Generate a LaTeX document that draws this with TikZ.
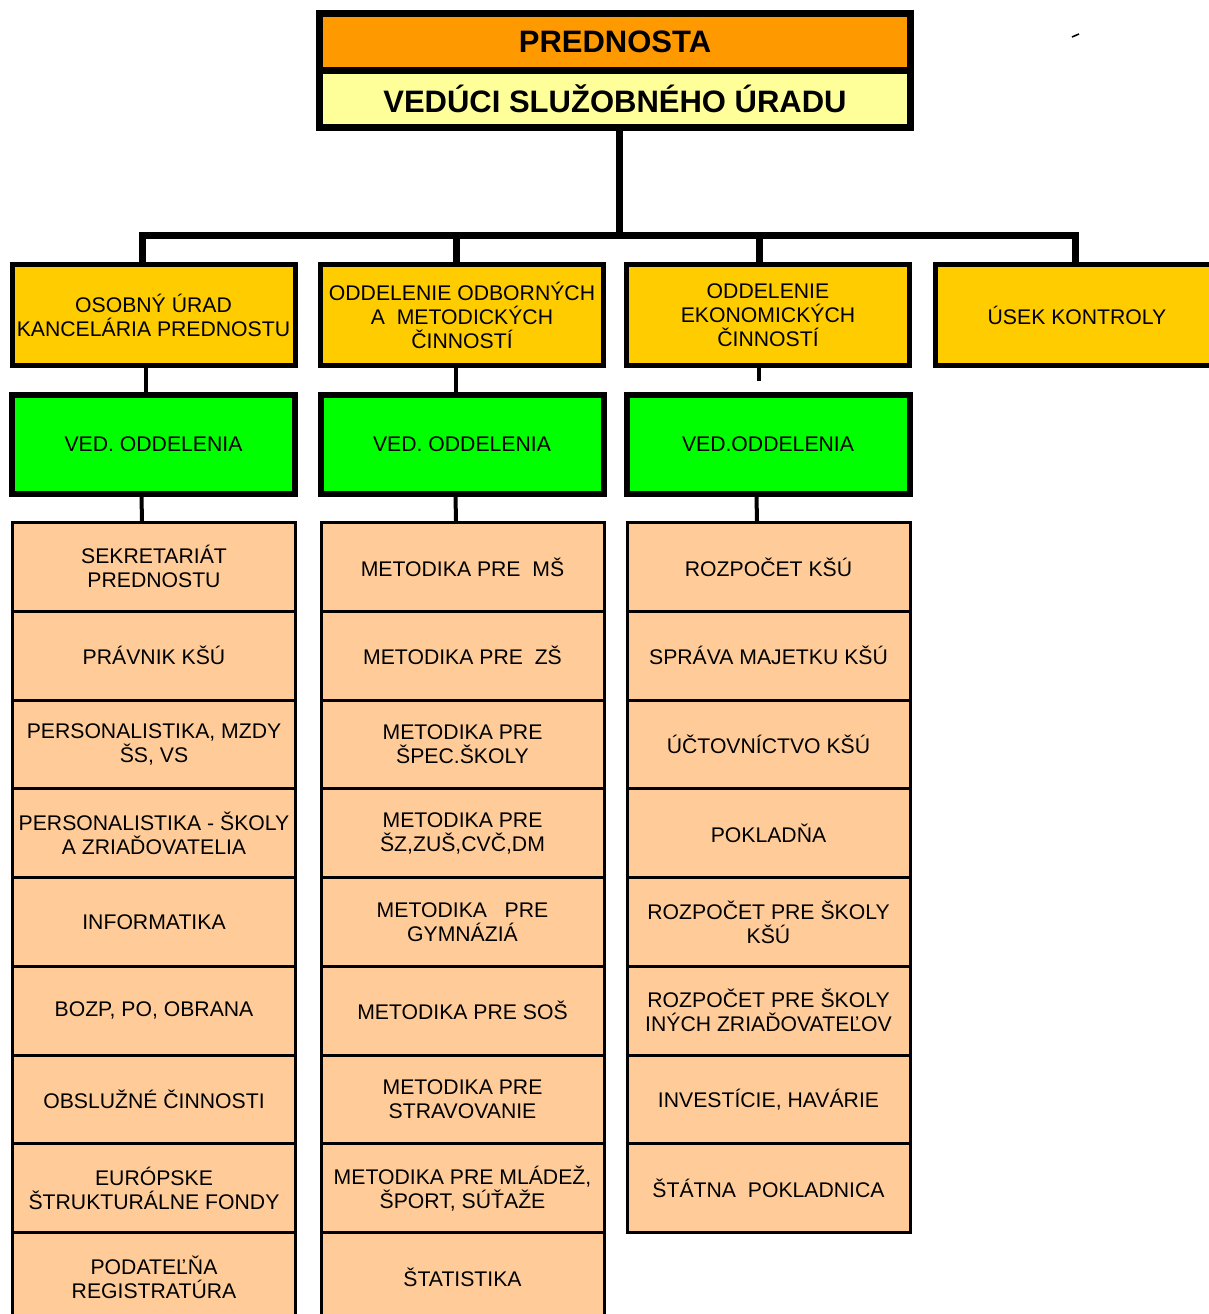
\documentclass[tikz,border=0pt]{standalone}
\usepackage{fontspec}
\setmainfont{Liberation Sans}
\definecolor{topor}{HTML}{FF9900}
\definecolor{topyel}{HTML}{FFFF99}
\definecolor{lvlone}{HTML}{FFCC00}
\definecolor{vedgreen}{HTML}{00FF00}
\definecolor{itemfill}{HTML}{FFCC99}
\tikzset{
  headbox/.style={draw, line width=7pt, fill=topor, minimum width=591pt, minimum height=56.5pt, inner sep=0pt, font=\bfseries\fontsize{31}{36}\selectfont},
  deptbox/.style={draw, line width=5pt, fill=lvlone, minimum width=283pt, minimum height=101pt, inner sep=0pt, align=center, font=\fontsize{21.2}{24}\selectfont},
  vedbox/.style={draw, line width=6pt, fill=vedgreen, minimum width=283pt, minimum height=99pt, inner sep=0pt, align=center, font=\fontsize{21.2}{24}\selectfont},
  itembox/.style={draw, line width=3pt, fill=itemfill, minimum width=283pt, minimum height=88.75pt, inner sep=0pt, align=center, anchor=north, font=\fontsize{21.2}{24}\selectfont},
  busline/.style={line width=7pt},
  thinconn/.style={line width=4pt}
}
\begin{document}
\begin{tikzpicture}[x=1pt,y=-1pt]
\useasboundingbox (0,0) rectangle (1209,1314);
% top box
\node[headbox] (pred) at (615,42.25) {PREDNOSTA};
\node[headbox, fill=topyel] (ved) at (615,98.75) {VEDÚCI SLUŽOBNÉHO ÚRADU};
% departments
\node[deptbox] (dA) at (153.5,315) {OSOBNÝ ÚRAD\\KANCELÁRIA PREDNOSTU};
\node[deptbox] (dB) at (462,315) {ODDELENIE ODBORNÝCH\\A~~METODICKÝCH\\ČINNOSTÍ};
\node[deptbox] (dC) at (768,315) {ODDELENIE\\EKONOMICKÝCH\\ČINNOSTÍ};
\node[deptbox] (dD) at (1077,315) {ÚSEK KONTROLY};
% heads of department
\node[vedbox] (gA) at (153.5,444.5) {VED. ODDELENIA};
\node[vedbox] (gB) at (462,444.5) {VED. ODDELENIA};
\node[vedbox] (gC) at (768,444.5) {VED.ODDELENIA};
% item lists
\foreach \t [count=\i] in {{SEKRETARIÁT\\PREDNOSTU},{PRÁVNIK KŠÚ},{PERSONALISTIKA, MZDY\\ŠS, VS},{PERSONALISTIKA - ŠKOLY\\A ZRIAĎOVATELIA},{INFORMATIKA},{BOZP, PO, OBRANA},{OBSLUŽNÉ ČINNOSTI},{EURÓPSKE\\ŠTRUKTURÁLNE FONDY},{PODATEĽŇA\\REGISTRATÚRA}}
  \node[itembox] (a\i) at (154,{521+88.75*(\i-1)}) {\t};
\foreach \t [count=\i] in {{METODIKA PRE~~MŠ},{METODIKA PRE~~ZŠ},{METODIKA PRE\\ŠPEC.ŠKOLY},{METODIKA PRE\\ŠZ,ZUŠ,CVČ,DM},{METODIKA~~~PRE\\GYMNÁZIÁ},{METODIKA PRE SOŠ},{METODIKA PRE\\STRAVOVANIE},{METODIKA PRE MLÁDEŽ,\\ŠPORT, SÚŤAŽE},{ŠTATISTIKA}}
  \node[itembox] (b\i) at (462.5,{521+88.75*(\i-1)}) {\t};
\foreach \t [count=\i] in {{ROZPOČET KŠÚ},{SPRÁVA MAJETKU KŠÚ},{ÚČTOVNÍCTVO KŠÚ},{POKLADŇA},{ROZPOČET PRE ŠKOLY\\KŠÚ},{ROZPOČET PRE ŠKOLY\\INÝCH ZRIAĎOVATEĽOV},{INVESTÍCIE, HAVÁRIE},{ŠTÁTNA~~POKLADNICA}}
  \node[itembox] (c\i) at (768.5,{521+88.75*(\i-1)}) {\t};
% connectors
\coordinate (bus) at (619,235);
\coordinate (d1) at (142,235);
\coordinate (d2) at (456,235);
\coordinate (d3) at (759,235);
\coordinate (d4) at (1075,235);
\draw[busline] (ved.south -| bus) -- (bus);
\draw[busline, line join=miter] (d1 |- dA.north) -- (d1) -- (d4) -- (d4 |- dD.north);
\draw[busline] (d2) -- (d2 |- dB.north);
\draw[busline] (d3) -- (d3 |- dC.north);
\draw[thinconn] ([xshift=-7.5pt]dA.south) -- ([xshift=-7.5pt]gA.north);
\draw[thinconn] ([xshift=-6pt]dB.south) -- ([xshift=-6pt]gB.north);
\coordinate (stub) at (759,381);
\draw[thinconn] (dC.south -| stub) -- (stub);
\draw[thinconn] ([xshift=-12pt]gA.south) -- ([xshift=-12pt]a1.north);
\draw[thinconn] ([xshift=-6.5pt]gB.south) -- ([xshift=-6.5pt]b1.north);
\draw[thinconn] ([xshift=-11.5pt]gC.south) -- ([xshift=-11.5pt]c1.north);
% small mark
\draw[line width=1.6pt] (1072,37) -- (1079,34);
\end{tikzpicture}
\end{document}
